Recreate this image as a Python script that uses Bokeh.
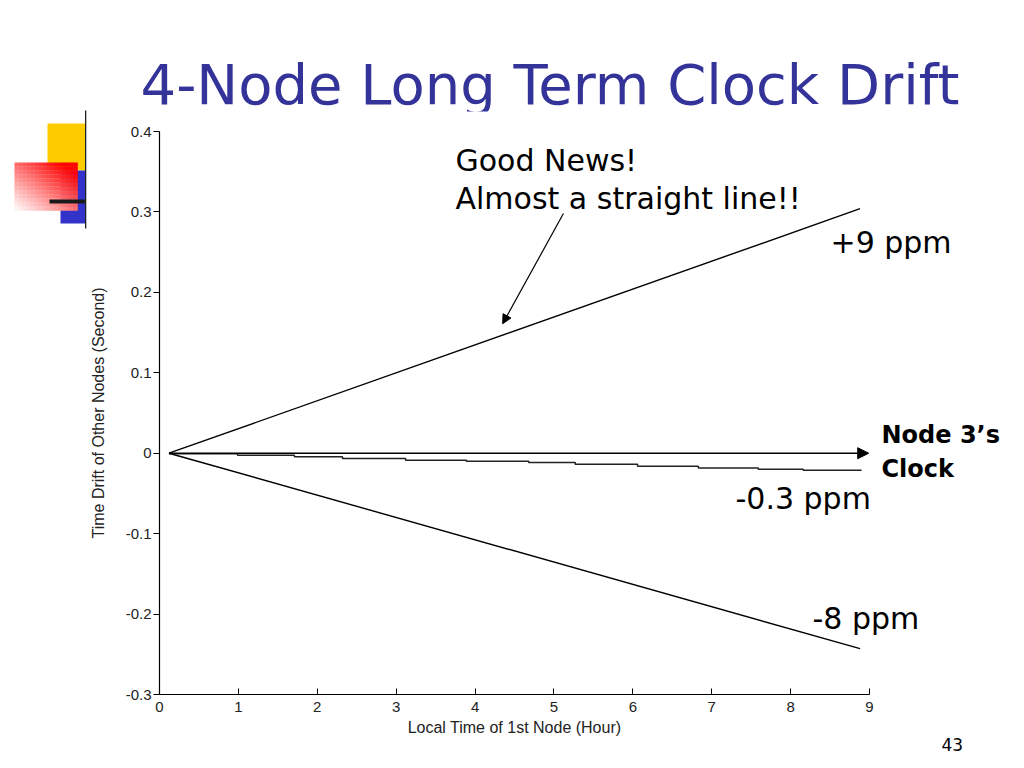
from bokeh.plotting import figure
from bokeh.models import Range1d, Label, BoxAnnotation, Arrow, NormalHead, FixedTicker
from bokeh.embed import file_html
from bokeh.resources import INLINE

# ---- data ----
hours_up = [0.12, 8.88]          # +9 ppm node
drift_up = [0.0, 0.304]
hours_down = [0.12, 8.88]        # -8 ppm node
drift_down = [0.0, -0.243]
step_hours = [0.12, 0.99, 1.71, 2.32, 3.12, 3.89, 4.68, 5.27, 6.06, 6.83, 7.59, 8.16, 8.90]   # -0.3 ppm node
step_drift = [-0.0006, -0.0025, -0.0044, -0.0066, -0.0087, -0.0100, -0.0116,
              -0.0137, -0.0162, -0.0184, -0.0199, -0.0211, -0.0211]
ref_hours = [0.12, 8.99]         # Node 3's clock (reference)
ref_drift = [0.0, 0.0]
note_arrow_from = [5.12, 0.298]
note_arrow_to = [4.35, 0.161]

x_ticks = [0, 1, 2, 3, 4, 5, 6, 7, 8, 9]
y_ticks = [0.4, 0.3, 0.2, 0.1, 0.0, -0.1, -0.2, -0.3]
y_tick_labels = ["0.4", "0.3", "0.2", "0.1", "0", "-0.1", "-0.2", "-0.3"]
X_MIN, X_MAX = 0, 9
Y_MIN, Y_MAX = -0.3, 0.4

# ---- layout: the frame fills the whole canvas, axes are placed at fixed locations ----
W, H = 1016, 760
AX_L, AX_R, AX_T, AX_B = 159, 869, 131, 694   # axis box in canvas pixels
kx = (AX_R - AX_L) / (X_MAX - X_MIN)
ky = (AX_B - AX_T) / (Y_MAX - Y_MIN)
x_range = Range1d(X_MIN - AX_L / kx, X_MAX + (W - AX_R) / kx)
y_range = Range1d(Y_MIN - (H - AX_B) / ky, Y_MAX + AX_T / ky)

p = figure(width=W, height=H, output_backend="svg", toolbar_location=None,
           title=None, x_range=x_range, y_range=y_range,
           min_border=0, min_border_left=0, min_border_right=0,
           min_border_top=0, min_border_bottom=0)
p.outline_line_color = None
p.xgrid.visible = False
p.ygrid.visible = False
p.background_fill_color = "white"
p.border_fill_color = "white"

AX_FONT = "Liberation Sans"
for ax in (p.xaxis[0], p.yaxis[0]):
    ax.axis_line_color = "black"
    ax.axis_line_width = 1.2
    ax.major_tick_line_color = "black"
    ax.minor_tick_line_color = None
    ax.major_label_text_font = AX_FONT
    ax.major_label_text_font_size = "15px"
    ax.major_label_text_color = "#222222"
    ax.axis_label_text_font = AX_FONT
    ax.axis_label_text_font_size = "16px"
    ax.axis_label_text_font_style = "normal"
    ax.axis_label_text_color = "#222222"

p.xaxis.fixed_location = Y_MIN
p.xaxis.bounds = (X_MIN, X_MAX)
p.xaxis.ticker = FixedTicker(ticks=x_ticks)
p.xaxis.major_tick_in = 6
p.xaxis.major_tick_out = 0
p.xaxis.major_label_standoff = 7
p.xaxis.axis_label = "Local Time of 1st Node (Hour)"
p.xaxis.axis_label_standoff = 4

p.yaxis.fixed_location = X_MIN
p.yaxis.bounds = (Y_MIN, Y_MAX)
p.yaxis.ticker = FixedTicker(ticks=y_ticks)
p.yaxis.major_label_overrides = {t: s for t, s in zip(y_ticks, y_tick_labels)}
p.yaxis.major_tick_in = 0
p.yaxis.major_tick_out = 6
p.yaxis.major_label_standoff = 2
p.yaxis.axis_label = "Time Drift of Other Nodes (Second)"
p.yaxis.axis_label_standoff = 16

# ---- data lines ----
p.line(hours_up, drift_up, line_color="black", line_width=1.4)
p.line(hours_down, drift_down, line_color="black", line_width=1.4)
p.step(step_hours, step_drift, mode="after", line_color="#222222", line_width=1.5)
p.add_layout(Arrow(end=NormalHead(size=11, fill_color="black", line_color="black"),
                   x_start=ref_hours[0], y_start=ref_drift[0],
                   x_end=ref_hours[1], y_end=ref_drift[1],
                   line_color="black", line_width=1.5))
p.add_layout(Arrow(end=NormalHead(size=9, fill_color="black", line_color="black"),
                   x_start=note_arrow_from[0], y_start=note_arrow_from[1],
                   x_end=note_arrow_to[0], y_end=note_arrow_to[1],
                   line_color="black", line_width=1.2))

# ---- helpers for pixel placement (screen units are frame-relative, frame = canvas) ----
def sx(px):
    return px

def sy(py):
    return H - py

def box(x0, y0, x1, y1, color):
    p.add_layout(BoxAnnotation(left=sx(x0), right=sx(x1), top=sy(y0), bottom=sy(y1),
                               left_units="screen", right_units="screen",
                               top_units="screen", bottom_units="screen",
                               fill_color=color, fill_alpha=1.0, line_color=None,
                               propagate_hover=False))

def label(px, baseline, text, size, color="black", font="DejaVu Sans", style="normal"):
    p.add_layout(Label(x=sx(px), y=sy(baseline - 0.35 * size), x_units="screen", y_units="screen",
                       text=text, text_font=font, text_font_size="%dpx" % size,
                       text_color=color, text_font_style=style,
                       text_align="left", text_baseline="middle"))

# ---- slide decoration ----
box(47, 123, 85, 170, "#FFCC00")
box(60, 170, 85, 223, "#3333CC")
nx, ny = 16, 12
gx0, gy0, gx1, gy1 = 14, 162, 77, 210
for i in range(nx):
    for j in range(ny):
        u = (i + 0.5) / nx
        v = (j + 0.5) / ny
        t = max(0.0, min(1.0, 0.55 * u + 0.6 * (1 - v)))
        g = int(round(255 * (1 - t)))
        col = "#%02x%02x%02x" % (255, g, g)
        x0 = gx0 + (gx1 - gx0) * i / nx
        x1 = gx0 + (gx1 - gx0) * (i + 1) / nx
        y0 = gy0 + (gy1 - gy0) * j / ny
        y1 = gy0 + (gy1 - gy0) * (j + 1) / ny
        box(x0, y0, x1 + 0.3, y1 + 0.3, col)
box(49, 199, 85, 203, "#1a1a1a")
box(84.5, 110, 85.8, 228, "#222222")

# ---- texts ----
label(140, 104, "4-Node Long Term Clock Drift", 56, color="#333399")
box(90, 111, 965, 121, "white")
label(455, 170, "Good News!", 30)
label(455, 208, "Almost a straight line!!", 30)
label(830, 252, "+9 ppm", 30)
label(881, 443, "Node 3\u2019s", 24, style="bold")
label(881, 477, "Clock", 24, style="bold")
label(735, 508, "-0.3 ppm", 30)
label(812, 628, "-8 ppm", 30)
label(941, 750, "43", 17)

open("out.html", "w").write(file_html(p, INLINE))
